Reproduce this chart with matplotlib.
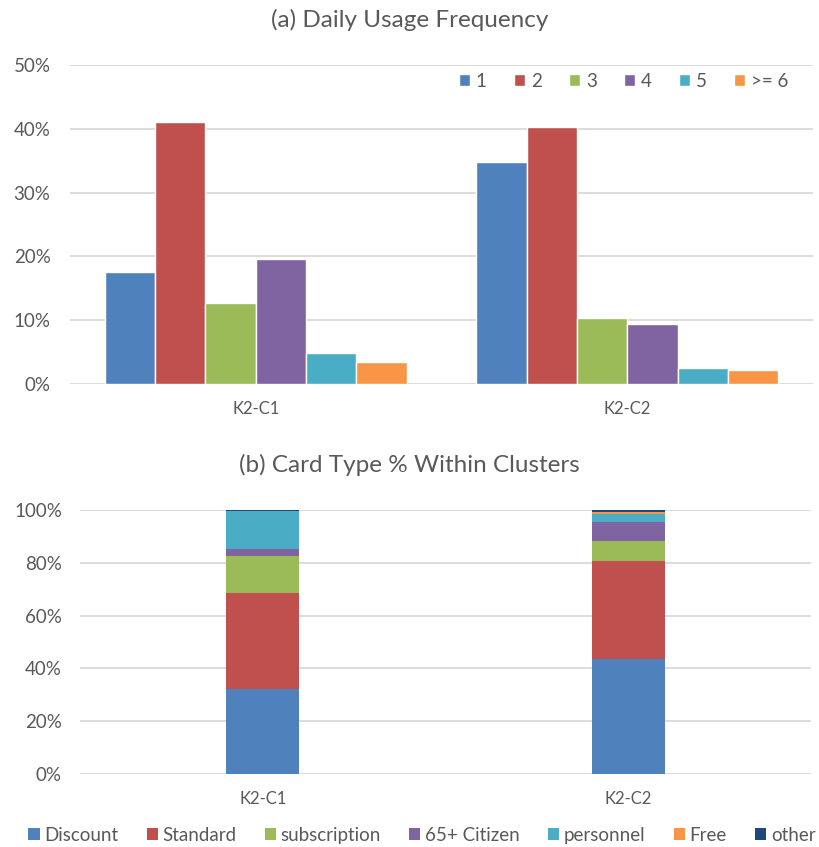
import matplotlib
matplotlib.use("Agg")
import matplotlib.pyplot as plt
import numpy as np
from matplotlib.ticker import PercentFormatter
from matplotlib.patches import Patch

plt.rcParams['font.family'] = ['Lato', 'DejaVu Sans']

# ---- data ----
clusters = ["K2-C1", "K2-C2"]

freq_labels = ["1", "2", "3", "4", "5", ">= 6"]
freq_c1 = [17.6, 41.1, 12.7, 19.6, 4.85, 3.5]
freq_c2 = [34.8, 40.3, 10.3, 9.4, 2.5, 2.2]

card_types = ["Discount", "Standard", "subscription", "65+ Citizen",
              "personnel", "Free", "other"]
card_c1 = [32.1, 36.3, 14.2, 2.7, 14.2, 0.3, 0.2]
card_c2 = [43.4, 37.4, 7.6, 7.2, 2.7, 1.0, 0.7]

colors = ["#4F81BD", "#C0504D", "#9BBB59", "#8064A2", "#4BACC6",
          "#F79646", "#1F497D"]
text_col = "#595959"
grid_col = "#D9D9D9"

W, H = 819, 847
fig = plt.figure(figsize=(W / 100, H / 100), dpi=100)

def box(l, t, r, b):
    return [l / W, 1 - b / H, (r - l) / W, (b - t) / H]

def style(ax, ymax, step):
    ax.set_ylim(0, ymax)
    ax.set_xlim(-0.5, 1.5)
    ax.set_yticks(np.arange(0, ymax + 1e-9, step))
    ax.yaxis.set_major_formatter(PercentFormatter(decimals=0))
    ax.grid(axis='y', color=grid_col, linewidth=1.3)
    ax.set_axisbelow(True)
    for s in ax.spines.values():
        s.set_visible(False)
    ax.tick_params(axis='both', length=0, colors=text_col)
    ax.tick_params(axis='y', labelsize=13.5)
    ax.tick_params(axis='x', labelsize=12, pad=12)
    ax.set_xticks(range(len(clusters)))
    ax.set_xticklabels(clusters)

# ---- (a) grouped bars ----
ax1 = fig.add_axes(box(70, 65, 813, 384))
slot = 0.1355
x = np.arange(len(clusters))
for i, lab in enumerate(freq_labels):
    vals = [freq_c1[i], freq_c2[i]]
    ax1.bar(x + (i - 2.5) * slot, vals, width=slot, color=colors[i],
            edgecolor='white', linewidth=1.0, label=lab)
style(ax1, 50, 10)
ax1.tick_params(axis='y', pad=14)
fig.text(0.5, 1 - 20 / H, "(a) Daily Usage Frequency", fontsize=17.5,
         color=text_col, ha='center', va='center')
fig.legend(*ax1.get_legend_handles_labels(), loc='center right',
           bbox_to_anchor=(805 / W, 1 - 81 / H), ncol=6,
           frameon=False, fontsize=13.5, labelcolor=text_col,
           handlelength=0.6, handleheight=0.6, handletextpad=0.3,
           columnspacing=1.45)

# ---- (b) stacked bars ----
ax2 = fig.add_axes(box(80, 510, 811, 774))
bottom = np.zeros(len(clusters))
handles = []
for i, lab in enumerate(card_types):
    vals = np.array([card_c1[i], card_c2[i]])
    ax2.bar(x, vals, width=0.2, bottom=bottom, color=colors[i],
            edgecolor='none', label=lab)
    bottom += vals
    handles.append(Patch(facecolor=colors[i], label=lab))
style(ax2, 100, 20)
ax2.tick_params(axis='y', pad=13)
fig.text(0.5, 1 - 465 / H, "(b) Card Type % Within Clusters", fontsize=17.5,
         color=text_col, ha='center', va='center')
fig.legend(handles=handles, loc='center', bbox_to_anchor=(422 / W, 1 - 835 / H),
           ncol=7, frameon=False, fontsize=13.5, labelcolor=text_col,
           handlelength=0.6, handleheight=0.6, handletextpad=0.25,
           columnspacing=1.5)

fig.savefig("out.png", dpi=100, facecolor='white')
